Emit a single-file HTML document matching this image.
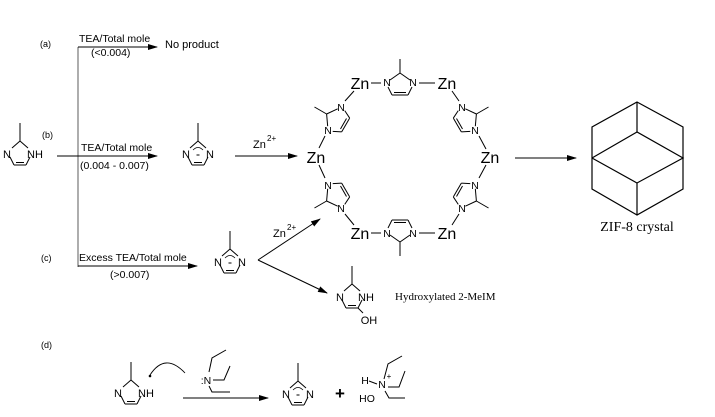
<!DOCTYPE html>
<html><head><meta charset="utf-8"><style>
html,body{margin:0;padding:0;background:#fff;}
svg{display:block;}
text{font-family:"Liberation Sans",Arial,sans-serif;fill:#000;}
.s{font-family:"Liberation Serif",serif;}
</style></head><body>
<svg width="715" height="417" viewBox="0 0 715 417" xmlns="http://www.w3.org/2000/svg">
<defs>
<marker id="ah" markerWidth="10" markerHeight="6" refX="9" refY="3" orient="auto" markerUnits="userSpaceOnUse"><path d="M0,0 L10,3 L0,6 Z" fill="#000"/></marker>
<g id="imcore" stroke="#000" stroke-width="1" fill="none">
<line x1="0" y1="0" x2="0" y2="-18"/>
<line x1="0" y1="0" x2="-8" y2="7"/><line x1="0" y1="0" x2="8" y2="7"/>
<line x1="-10" y1="16" x2="-6" y2="24"/><line x1="6" y1="24" x2="10" y2="16"/>
<line x1="-6" y1="24" x2="6" y2="24"/><line x1="-4" y1="21.5" x2="4" y2="21.5"/>
</g>
<g id="ring" stroke="#000" stroke-width="1" fill="none">
<line x1="0" y1="-12" x2="0" y2="-26"/>
<line x1="-10" y1="-5" x2="0" y2="-12"/><line x1="0" y1="-12" x2="10" y2="-5"/>
<line x1="-12" y1="2" x2="-8" y2="10"/><line x1="8" y1="10" x2="12" y2="2"/>
<line x1="-8" y1="10" x2="8" y2="10"/><line x1="-6" y1="7.5" x2="6" y2="7.5"/>
</g>
</defs>

<g font-size="9">
<text x="40" y="47">(a)</text>
<text x="42" y="138">(b)</text>
<text x="41" y="261">(c)</text>
<text x="41" y="348">(d)</text>
</g>

<line x1="78" y1="47" x2="78" y2="267" stroke="#777" stroke-width="1.2"/>
<line x1="78" y1="47" x2="157" y2="47" stroke="#000" marker-end="url(#ah)"/>
<line x1="57" y1="156" x2="157" y2="156" stroke="#000" marker-end="url(#ah)"/>
<line x1="78" y1="266" x2="197" y2="266" stroke="#000" marker-end="url(#ah)"/>

<g font-size="10.5">
<text x="79" y="42">TEA/Total mole</text>
<text x="91" y="56">(&lt;0.004)</text>
<text x="81" y="151">TEA/Total mole</text>
<text x="80" y="169">(0.004 - 0.007)</text>
<text x="79" y="261">Excess TEA/Total mole</text>
<text x="110" y="278">(&gt;0.007)</text>
</g>
<text x="165" y="48" font-size="11">No product</text>

<g transform="translate(20,141)"><use href="#imcore"/>
<text x="-13" y="17" font-size="11" text-anchor="middle">N</text>
<text x="15" y="17" font-size="11" text-anchor="middle">NH</text></g>

<g transform="translate(198,141)"><use href="#imcore"/>
<text x="-12" y="17" font-size="11" text-anchor="middle">N</text>
<text x="12" y="17" font-size="11" text-anchor="middle">N</text>
<path d="M-5,9 Q0,4 5,9" stroke="#000" fill="none" stroke-width="0.8"/><line x1="-1.5" y1="14" x2="1.5" y2="14" stroke="#000"/></g>
<line x1="235" y1="156" x2="297" y2="156" stroke="#000" marker-end="url(#ah)"/>
<text x="253" y="148" font-size="11">Zn</text><text x="267" y="141" font-size="8">2+</text>

<g transform="translate(230,249)"><use href="#imcore"/>
<text x="-12" y="17" font-size="11" text-anchor="middle">N</text>
<text x="12" y="17" font-size="11" text-anchor="middle">N</text>
<path d="M-5,9 Q0,4 5,9" stroke="#000" fill="none" stroke-width="0.8"/><line x1="-1.5" y1="14" x2="1.5" y2="14" stroke="#000"/></g>
<line x1="258" y1="260" x2="320" y2="219" stroke="#000" marker-end="url(#ah)"/>
<line x1="258" y1="260" x2="327" y2="293" stroke="#000" marker-end="url(#ah)"/>
<text x="273" y="237" font-size="11">Zn</text><text x="287" y="230" font-size="8">2+</text>

<g transform="translate(352,284)"><use href="#imcore"/>
<text x="-12" y="17" font-size="11" text-anchor="middle">N</text>
<text x="14" y="17" font-size="11" text-anchor="middle">NH</text>
<line x1="6" y1="24" x2="11" y2="29" stroke="#000"/>
<text x="17" y="40" font-size="11" text-anchor="middle">OH</text></g>
<text x="395" y="300" font-size="11" class="s">Hydroxylated 2-MeIM</text>

<g font-size="16" text-anchor="middle">
<text x="360" y="89">Zn</text><text x="447" y="89">Zn</text>
<text x="316" y="163">Zn</text><text x="490" y="163">Zn</text>
<text x="360" y="239">Zn</text><text x="447" y="239">Zn</text>
</g>
<use href="#ring" transform="translate(400,85)"/>
<use href="#ring" transform="translate(337,120) rotate(-60)"/>
<use href="#ring" transform="translate(466,120) rotate(60)"/>
<use href="#ring" transform="translate(337,195) rotate(-120)"/>
<use href="#ring" transform="translate(466,195) rotate(120)"/>
<use href="#ring" transform="translate(400,230) rotate(180)"/>
<g font-size="10.5" text-anchor="middle">
<text x="387" y="86">N</text><text x="413" y="86">N</text>
<text x="341" y="111">N</text><text x="328" y="134">N</text>
<text x="462" y="111">N</text><text x="475" y="134">N</text>
<text x="328" y="189">N</text><text x="341" y="212">N</text>
<text x="475" y="189">N</text><text x="462" y="212">N</text>
<text x="387" y="237">N</text><text x="413" y="237">N</text>
</g>
<g stroke="#000" stroke-width="1">
<line x1="371" y1="83" x2="381" y2="83"/><line x1="419" y1="83" x2="435" y2="83"/>
<line x1="354" y1="91" x2="345" y2="101"/><line x1="325" y1="136" x2="319" y2="148"/>
<line x1="319" y1="165" x2="325" y2="178"/><line x1="345" y1="214" x2="354" y2="225"/>
<line x1="371" y1="233" x2="381" y2="233"/><line x1="419" y1="233" x2="435" y2="233"/>
<line x1="452" y1="225" x2="459" y2="214"/><line x1="479" y1="178" x2="486" y2="165"/>
<line x1="486" y1="149" x2="479" y2="136"/><line x1="459" y1="101" x2="452" y2="91"/>
</g>

<line x1="515" y1="158" x2="576" y2="158" stroke="#000" marker-end="url(#ah)"/>
<g stroke="#000" stroke-width="1.2" fill="none">
<polygon points="637,102 683,127 683,189 637,215 592,189 592,127"/>
<line x1="637" y1="102" x2="637" y2="132"/>
<polyline points="592,158 637,132 683,158 637,183 592,158"/>
<line x1="637" y1="183" x2="637" y2="215"/>
</g>
<text x="637" y="231" font-size="14" class="s" text-anchor="middle">ZIF-8 crystal</text>

<g transform="translate(131,380)"><use href="#imcore"/>
<text x="-13" y="17" font-size="11" text-anchor="middle">N</text>
<text x="15" y="17" font-size="11" text-anchor="middle">NH</text></g>
<path d="M185,373 Q165,352 150,375" stroke="#000" fill="none" stroke-width="0.9"/>
<circle cx="150" cy="376" r="1.3" fill="#000"/>
<text x="206" y="384" font-size="10.5" text-anchor="middle">:N</text>
<g stroke="#000" stroke-width="1" fill="none">
<polyline points="209,372 212,358 226,350"/>
<polyline points="213,380 224,380 230,366"/>
<polyline points="209,386 212,392 230,392"/>
</g>
<line x1="183" y1="398" x2="268" y2="398" stroke="#000" marker-end="url(#ah)"/>
<g transform="translate(298,381)"><use href="#imcore"/>
<text x="-12" y="17" font-size="11" text-anchor="middle">N</text>
<text x="12" y="17" font-size="11" text-anchor="middle">N</text>
<path d="M-5,9 Q0,4 5,9" stroke="#000" fill="none" stroke-width="0.8"/><line x1="-1.5" y1="14" x2="1.5" y2="14" stroke="#000"/></g>
<text x="340" y="399" font-size="17" font-weight="bold" text-anchor="middle">+</text>
<text x="365" y="384" font-size="10.5" text-anchor="middle">H</text>
<line x1="369" y1="381" x2="377" y2="384" stroke="#000"/>
<text x="382" y="388" font-size="10.5" text-anchor="middle">N</text>
<text x="389" y="379" font-size="8" text-anchor="middle">+</text>
<text x="367" y="402" font-size="10.5" text-anchor="middle">HO</text>
<g stroke="#000" stroke-width="1" fill="none">
<polyline points="384,379 388,364 402,356"/>
<polyline points="388,387 399,387 405,371"/>
<polyline points="385,391 389,398 405,398"/>
</g>
</svg>
</body></html>
